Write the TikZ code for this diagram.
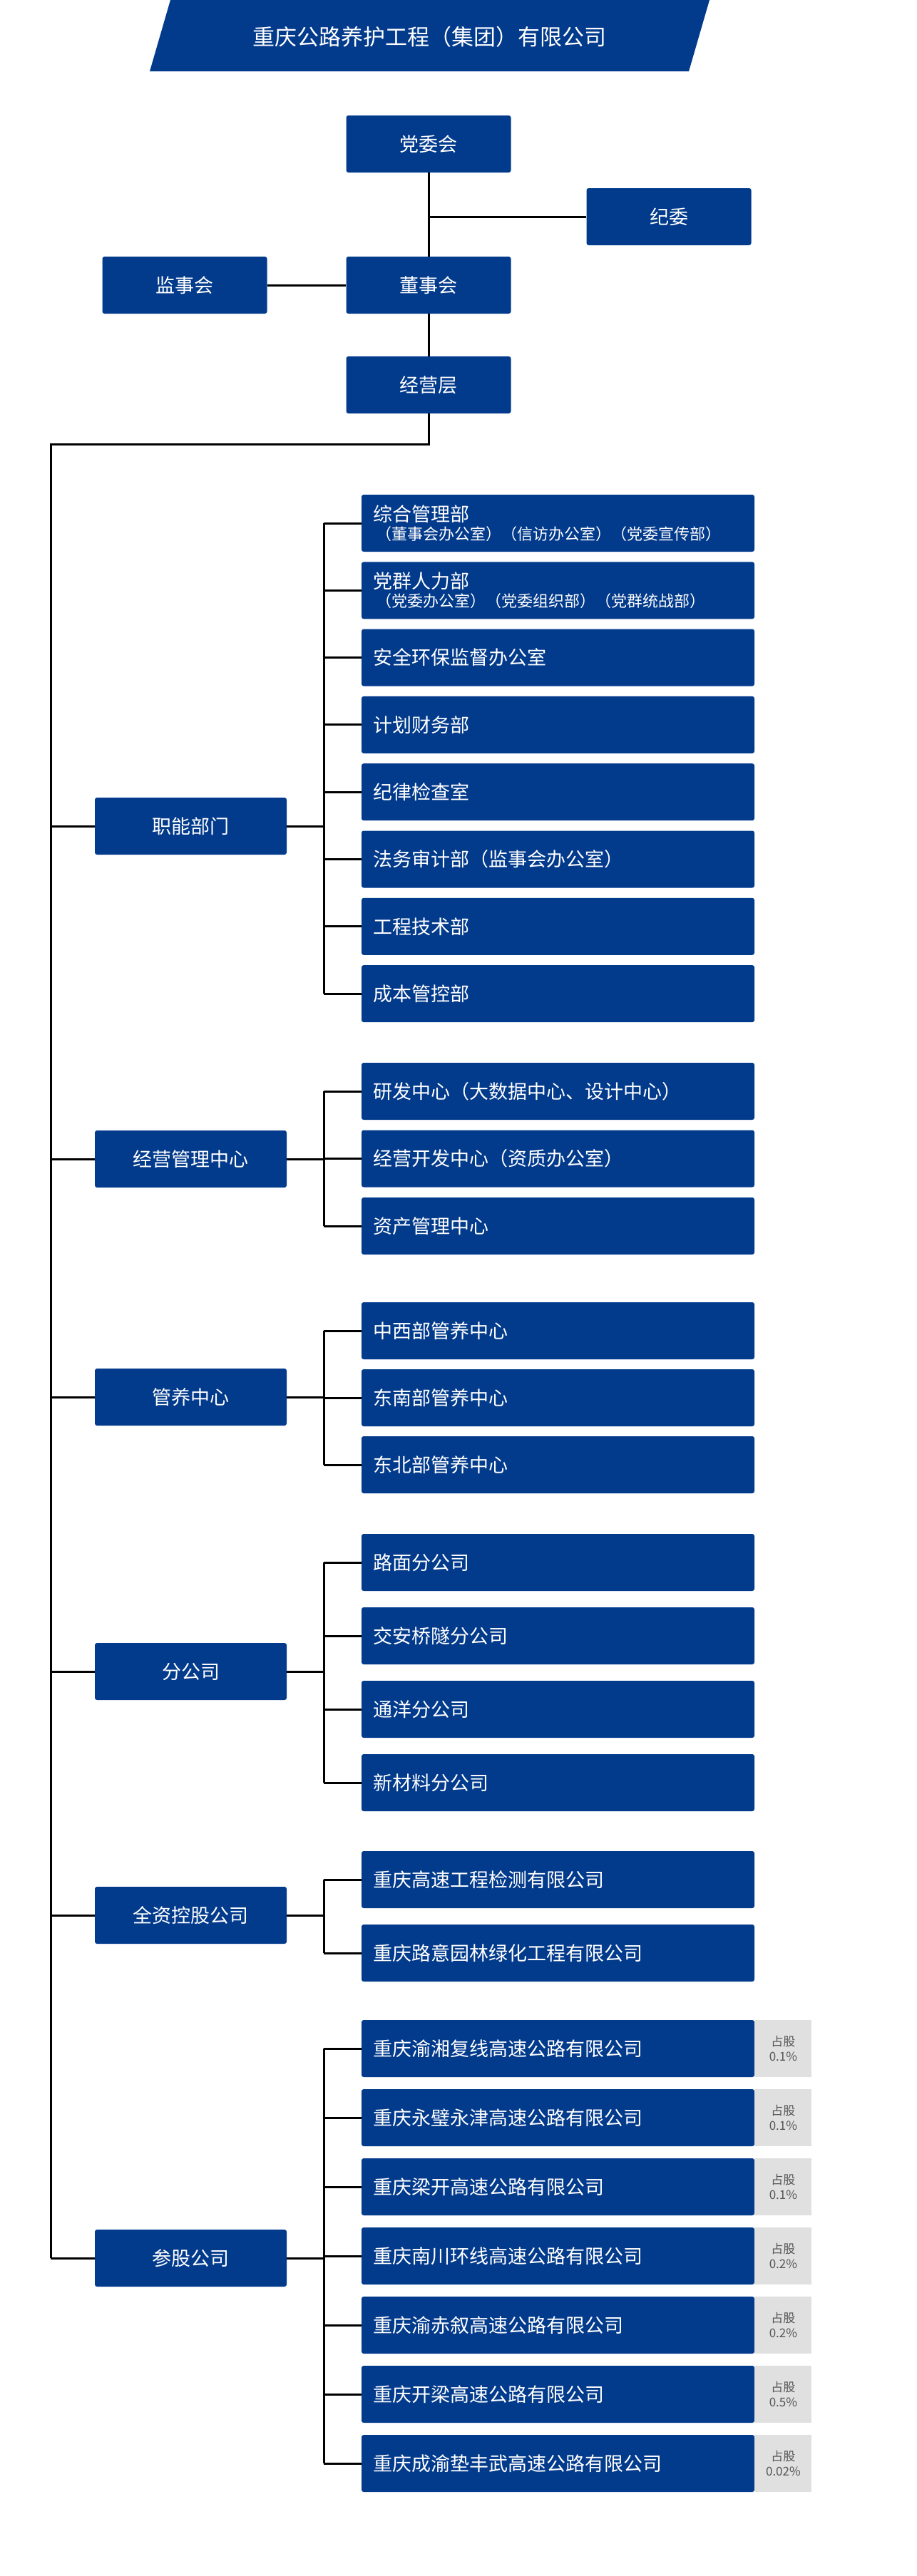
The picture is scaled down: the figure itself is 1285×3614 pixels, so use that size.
\documentclass[tikz,border=0pt]{standalone}
\usepackage{fontspec}
\setmainfont{Noto Sans CJK SC}
\usetikzlibrary{positioning}

\definecolor{orgblue}{RGB}{2,58,140}
\definecolor{sharegray}{RGB}{224,224,224}
\definecolor{sharetxt}{RGB}{85,85,85}

\tikzstyle{topbox} = [fill=orgblue, rounded corners=3pt, minimum width=231pt, minimum height=80pt, text=white, font=\fontsize{27}{30}\selectfont, inner sep=0pt]
\tikzstyle{grpbox} = [fill=orgblue, rounded corners=3pt, minimum width=269pt, minimum height=80pt, text=white, font=\fontsize{27}{30}\selectfont, inner sep=0pt]
\tikzstyle{subbox} = [fill=orgblue, rounded corners=3pt, minimum width=551pt, minimum height=80pt, text width=519pt, align=left, inner xsep=16pt, inner ysep=0pt, text=white, font=\fontsize{27}{30}\selectfont]
\tikzstyle{sharebox} = [fill=sharegray, minimum width=80pt, minimum height=80pt, inner sep=0pt, align=center, text=sharetxt, font=\fontsize{17}{21}\selectfont]
\tikzstyle{link} = [line width=3pt]

\begin{document}
\begin{tikzpicture}[x=1pt, y=-1pt]
\useasboundingbox (0,0) rectangle (1285,3614);

% Title
\fill[orgblue] (239,0) -- (995,0) -- (966,100) -- (210,100) -- cycle;
\node[text=white, font=\fontsize{31}{34}\selectfont] (title) at (602,52) {重庆公路养护工程（集团）有限公司};

% Top levels
\node[topbox] (dwh) at (601,202) {党委会};
\node[topbox] (jw)  at (938,304) {纪委};
\node[topbox] (jsh) at (259,400) {监事会};
\node[topbox] (dsh) at (601,400) {董事会};
\node[topbox] (jyc) at (601,540) {经营层};

\draw[link] (dwh.south) -- (dsh.north);
\draw[link] (jw.west) -- (jw.west -| dsh.north);
\draw[link] (jsh.east) -- (dsh.west);
\draw[link] (dsh.south) -- (jyc.north);

% Groups
\node[grpbox] (znbm) at (267.5,1159) {职能部门};
\node[grpbox] (jygl) at (267.5,1626) {经营管理中心};
\node[grpbox] (gyzx) at (267.5,1960) {管养中心};
\node[grpbox] (fgs)  at (267.5,2345) {分公司};
\node[grpbox] (qzkg) at (267.5,2687) {全资控股公司};
\node[grpbox] (cggs) at (267.5,3168) {参股公司};

\coordinate (trunk) at (71,623);
\coordinate (bx) at (454,0);
\draw[link] (jyc.south) |- (trunk) -- (trunk |- cggs.west);
\foreach \g in {znbm,jygl,gyzx,fgs,qzkg,cggs} {%
 \draw[link] (trunk |- \g.west) -- (\g.west);
 \draw[link] (\g.east) -- (bx |- \g.east);
}

%ZHINENG
\foreach \t [count=\i] in {%
 {综合管理部\\[-4pt]{\fontsize{22}{24}\selectfont\hspace{4pt}（董事会办公室）（信访办公室）（党委宣传部）}},
 {党群人力部\\[-4pt]{\fontsize{22}{24}\selectfont\hspace{4pt}（党委办公室）（党委组织部）（党群统战部）}},
 安全环保监督办公室, 计划财务部, 纪律检查室, 法务审计部（监事会办公室）, 工程技术部, 成本管控部} {%
 \node[subbox] (zn\i) at (782.5,{734+94.3*(\i-1)}) {\t};
 \draw[link] (zn\i.west) -- (bx |- zn\i.west);
}
\draw[link] (bx |- zn1.west) -- (bx |- zn8.west);

%JINGYING
\foreach \t [count=\i] in {研发中心（大数据中心、设计中心）, 经营开发中心（资质办公室）, 资产管理中心} {%
 \node[subbox] (jy\i) at (782.5,{1531+94.5*(\i-1)}) {\t};
 \draw[link] (jy\i.west) -- (bx |- jy\i.west);
}
\draw[link] (bx |- jy1.west) -- (bx |- jy3.west);

%GUANYANG
\foreach \t [count=\i] in {中西部管养中心, 东南部管养中心, 东北部管养中心} {%
 \node[subbox] (gy\i) at (782.5,{1867+94*(\i-1)}) {\t};
 \draw[link] (gy\i.west) -- (bx |- gy\i.west);
}
\draw[link] (bx |- gy1.west) -- (bx |- gy3.west);

%FENGONGSI
\foreach \t [count=\i] in {路面分公司, 交安桥隧分公司, 通洋分公司, 新材料分公司} {%
 \node[subbox] (fg\i) at (782.5,{2192+103*(\i-1)}) {\t};
 \draw[link] (fg\i.west) -- (bx |- fg\i.west);
}
\draw[link] (bx |- fg1.west) -- (bx |- fg4.west);

%QUANZI
\foreach \t [count=\i] in {重庆高速工程检测有限公司, 重庆路意园林绿化工程有限公司} {%
 \node[subbox] (qz\i) at (782.5,{2637+103*(\i-1)}) {\t};
 \draw[link] (qz\i.west) -- (bx |- qz\i.west);
}
\draw[link] (bx |- qz1.west) -- (bx |- qz2.west);

%CANGU
\foreach \t/\p [count=\i] in {重庆渝湘复线高速公路有限公司/0.1, 重庆永璧永津高速公路有限公司/0.1,
 重庆梁开高速公路有限公司/0.1, 重庆南川环线高速公路有限公司/0.2, 重庆渝赤叙高速公路有限公司/0.2,
 重庆开梁高速公路有限公司/0.5, 重庆成渝垫丰武高速公路有限公司/0.02} {%
 \node[subbox] (cg\i) at (782.5,{2874+97*(\i-1)}) {\t};
 \node[sharebox, right=0pt of cg\i] (share\i) {占股\\\p\%};
 \draw[link] (cg\i.west) -- (bx |- cg\i.west);
}
\draw[link] (bx |- cg1.west) -- (bx |- cg7.west);

\end{tikzpicture}
\end{document}
